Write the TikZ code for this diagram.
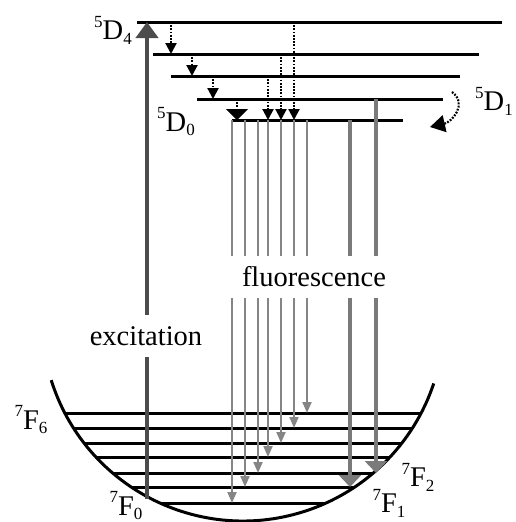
\documentclass[tikz,border=0pt]{standalone}
\usepackage{fontspec}
\setmainfont{Liberation Serif}
\usetikzlibrary{arrows.meta}

% term symbol: superscript, letter, subscript
\newcommand{\termsym}[3]{{\fontsize{17}{17}\selectfont\raisebox{12.5pt}{#1}}#2{\fontsize{17}{17}\selectfont\raisebox{-4.5pt}{#3}}}

\begin{document}
\begin{tikzpicture}[x=1pt, y=-1pt, font=\fontsize{28.5}{30}\selectfont,
  level/.style={line width=3pt},
  decay/.style={line width=2.2pt, dash pattern=on 1.8pt off 1.4pt, -{Triangle[width=11pt,length=11pt]}},
  emit/.style={draw=black!48, line width=2pt, -{Triangle[width=9pt,length=11pt]}},
  emitthick/.style={draw=black!52, line width=3.5pt, -{Triangle[width=22pt,length=12pt]}},
  pump/.style={draw=black!70, line width=4.8pt, -{Triangle[width=22pt,length=16pt]}},
  tag/.style={fill=white, inner sep=11pt}]
  \useasboundingbox (0,0) rectangle (516,522);

  % excited levels
  \foreach \name/\xa/\xb/\y in {D4/137/502/22, Da/153/479/54, Db/171/460/76, D1/197/443/99, D0/232/403/120} {
    \coordinate (\name) at (\xa,\y);
    \coordinate (\name r) at (\xb,\y);
    \draw[level] (\name) -- (\name r);
  }

  % ground manifold in the bowl
  \coordinate (bowl) at (243,320);
  \begin{scope}
    \clip (bowl) circle[radius=201];
    \foreach \name/\y in {F6/413, F5/428, F4/443, F3/457, F2/473, F1/487, F0/503} {
      \coordinate (\name) at (0,\y);
      \draw[level] (\name) -- ++(516,0);
    }
  \end{scope}
  \draw[level] (bowl) ++(162.6:201) arc[start angle=162.6, end angle=18.4, radius=201];

  % excitation
  \coordinate (ground) at (147,499);
  \draw[pump] (ground) -- (D4 -| ground);

  % non-radiative relaxation
  \foreach \x/\from/\to in {171/D4/Da, 192/Da/Db, 213/Db/D1, 268/Db/D0, 281/Da/D0, 294/D4/D0}
    \draw[decay] (\from -| \x,0) -- (\to -| \x,0);
  \draw[decay, -{Triangle[width=22pt,length=11pt]}] (D1 -| 237,0) -- (D0 -| 237,0);
  \coordinate (loopa) at (452,92);
  \coordinate (loopb) at (430,127);
  \draw[decay, -{Triangle[width=17pt,length=15pt]}] (loopa) .. controls (468,104) and (452,122) .. (loopb);

  % fluorescence
  \foreach \x/\to in {232/F0, 245/F1, 258/F2, 268/F3, 281/F4, 294/F5, 307/F6}
    \draw[emit] (D0 -| \x,0) -- (\to -| \x,0);
  \draw[emitthick] (D0 -| 350,0) -- (F1 -| 350,0);
  \draw[emitthick] (D1 -| 376,0) -- (F2 -| 376,0);

  \node[tag] (exc) at (146,336) {excitation};
  \node[tag] (flu) at (314,277) {fluorescence};

  % labels
  \node (lD4) at (113,30) {\termsym{5}{D}{4}};
  \node (lD0) at (176,122) {\termsym{5}{D}{0}};
  \node (lD1) at (494,101) {\termsym{5}{D}{1}};
  \node (lF6) at (31,420) {\termsym{7}{F}{6}};
  \node (lF0) at (126,506) {\termsym{7}{F}{0}};
  \node (lF1) at (389,503) {\termsym{7}{F}{1}};
  \node (lF2) at (418,477) {\termsym{7}{F}{2}};
\end{tikzpicture}
\end{document}
